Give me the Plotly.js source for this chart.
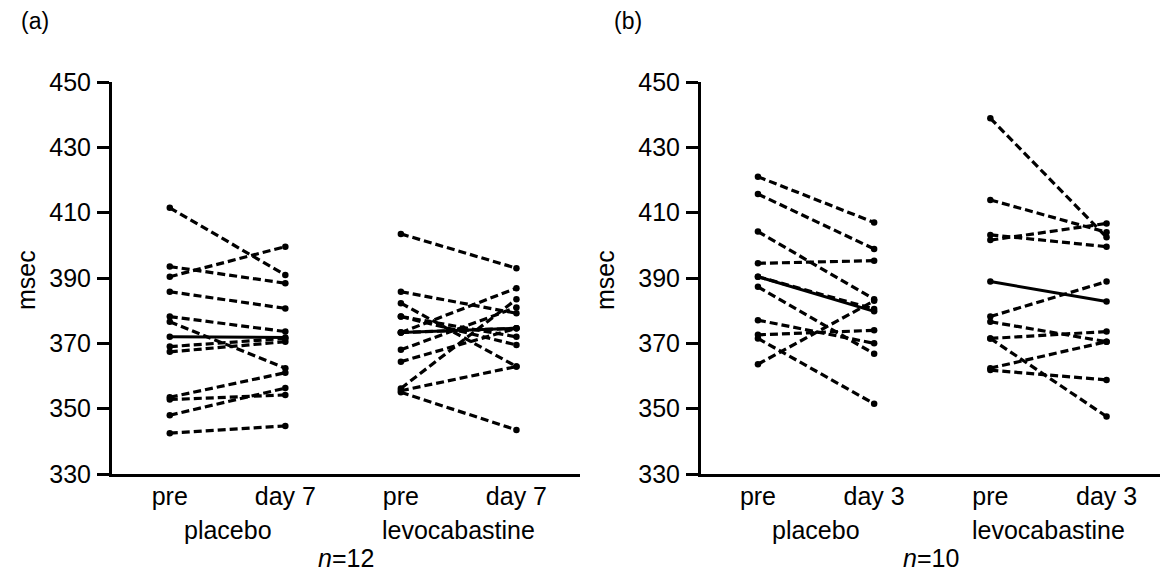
<!DOCTYPE html>
<html>
<head>
<meta charset="utf-8">
<script src="https://cdn.plot.ly/plotly-3.0.1.min.js"></script>
<style>
html,body{margin:0;padding:0;background:#fff;}
#chart{width:1163px;height:573px;}
</style>
</head>
<body>
<div id="chart"></div>
<script>
// ---- data ----
const groups = ["placebo", "levocabastine"];
const timesA = ["pre", "day 7"];
const timesB = ["pre", "day 3"];
const nA = "<i>n</i>=12";
const nB = "<i>n</i>=10";

// panel (a)
const aPlaceboPre  = [411.5, 393.5, 390.4, 385.8, 378.2, 376.6, 369.0, 367.4, 353.5, 352.8, 348.0, 342.5];
const aPlaceboDay7 = [390.9, 388.4, 399.6, 380.7, 373.6, 362.4, 371.5, 370.5, 361.0, 354.2, 356.3, 344.7];
const aPlaceboMean = [372.0, 371.8];
const aLevoPre  = [403.5, 385.8, 382.3, 378.2, 373.3, 368.0, 364.4, 356.2, 355.5, 355.0, 378.2, 373.3];
const aLevoDay7 = [393.0, 379.2, 362.9, 372.0, 386.9, 381.0, 374.6, 383.5, 362.9, 343.5, 369.5, 374.6];
const aLevoMean = [373.3, 374.6];

// panel (b)
const bPlaceboPre  = [421.0, 415.7, 404.2, 394.5, 387.3, 377.1, 372.6, 371.5, 363.6, 390.4];
const bPlaceboDay3 = [407.0, 398.9, 383.5, 395.3, 366.8, 370.0, 374.0, 351.5, 383.0, 380.5];
const bPlaceboMean = [390.4, 379.8];
const bLevoPre  = [438.9, 413.9, 403.2, 401.6, 378.2, 376.6, 371.5, 371.5, 362.4, 361.8];
const bLevoDay3 = [402.5, 404.0, 399.6, 406.7, 388.9, 370.5, 347.6, 373.6, 370.5, 358.8];
const bLevoMean = [388.9, 382.8];

const yTicks = [330, 350, 370, 390, 410, 430, 450];

// ---- build ----
const FONT = "Liberation Sans, Arial, Helvetica, sans-serif";
const traces = [];
function addGroup(xa, ya, gi, pre, post, mean) {
  const x0 = gi * 2, x1 = gi * 2 + 1;
  for (let i = 0; i < pre.length; i++) {
    traces.push({
      x: [x0, x1], y: [pre[i], post[i]], xaxis: xa, yaxis: ya,
      type: "scatter", mode: "lines+markers", hoverinfo: "skip",
      line: {color: "#000", width: 3.2, dash: "8px,4px"},
      marker: {color: "#000", size: 6.5}
    });
  }
  traces.push({
    x: [x0, x1], y: mean, xaxis: xa, yaxis: ya,
    type: "scatter", mode: "lines+markers", hoverinfo: "skip",
    line: {color: "#000", width: 3},
    marker: {color: "#000", size: 6.5}
  });
}
addGroup("x", "y", 0, aPlaceboPre, aPlaceboDay7, aPlaceboMean);
addGroup("x", "y", 1, aLevoPre, aLevoDay7, aLevoMean);
addGroup("x2", "y2", 0, bPlaceboPre, bPlaceboDay3, bPlaceboMean);
addGroup("x2", "y2", 1, bLevoPre, bLevoDay3, bLevoMean);

const W = 1163, H = 573;
const yDom = [1 - 474 / H, 1 - 82 / H];
function xAxis(dom, range, times, anchor) {
  return {
    domain: dom, range: range, anchor: anchor,
    tickvals: [0, 1, 2, 3], ticktext: [times[0], times[1], times[0], times[1]],
    ticks: "", showline: true, linewidth: 3, linecolor: "#000",
    showgrid: false, zeroline: false, ticklabelstandoff: -2,
    tickfont: {family: FONT, size: 25, color: "#000"}, fixedrange: true
  };
}
function yAxis(anchor) {
  return {
    domain: yDom, range: [330, 450], anchor: anchor,
    tickvals: yTicks, ticks: "outside", ticklen: 12, tickwidth: 3, tickcolor: "#000",
    showline: true, linewidth: 3, linecolor: "#000",
    showgrid: false, zeroline: false, ticklabelstandoff: 1,
    tickfont: {family: FONT, size: 25, color: "#000"}, fixedrange: true
  };
}

const ann = [];
function txt(o) { ann.push(Object.assign({showarrow: false, font: {family: FONT, size: 25, color: "#000"}}, o)); }
groups.forEach((g, gi) => {
  txt({text: g, xref: "x", yref: "paper", x: gi * 2 + 0.5, y: 1 - 530 / H, yanchor: "middle"});
  txt({text: g, xref: "x2", yref: "paper", x: gi * 2 + 0.5, y: 1 - 530 / H, yanchor: "middle"});
});
txt({text: nA, xref: "x domain", yref: "paper", x: 0.5, y: 1 - 558 / H, yanchor: "middle"});
txt({text: nB, xref: "x2 domain", yref: "paper", x: 0.5, y: 1 - 558 / H, yanchor: "middle"});
txt({text: "msec", xref: "paper", yref: "paper", x: 26 / W, y: 1 - 280 / H, textangle: -90, xanchor: "center", yanchor: "middle"});
txt({text: "msec", xref: "paper", yref: "paper", x: 605 / W, y: 1 - 280 / H, textangle: -90, xanchor: "center", yanchor: "middle"});
txt({text: "(a)", xref: "paper", yref: "paper", x: 35 / W, y: 1 - 21 / H, xanchor: "center", yanchor: "middle", font: {family: FONT, size: 23, color: "#000"}});
txt({text: "(b)", xref: "paper", yref: "paper", x: 628 / W, y: 1 - 21 / H, xanchor: "center", yanchor: "middle", font: {family: FONT, size: 23, color: "#000"}});

const layout = {
  width: W, height: H, margin: {l: 0, r: 0, t: 0, b: 0},
  paper_bgcolor: "#fff", plot_bgcolor: "#fff", showlegend: false,
  xaxis: xAxis([112 / W, 580 / W], [-0.5, 3.55], timesA, "y"),
  yaxis: yAxis("x"),
  xaxis2: xAxis([701 / W, 1160 / W], [-0.49, 3.46], timesB, "y2"),
  yaxis2: yAxis("x2"),
  annotations: ann
};
Plotly.newPlot("chart", traces, layout, {staticPlot: true, displayModeBar: false});
</script>
</body>
</html>
